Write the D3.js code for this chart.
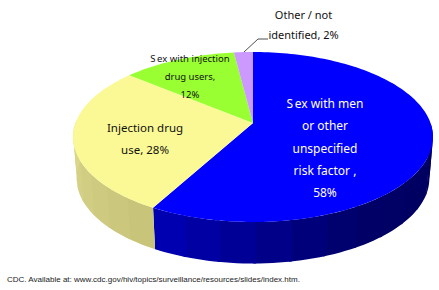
<!DOCTYPE html>
<html>
<head>
<meta charset="utf-8">
<script src="https://cdn.jsdelivr.net/npm/d3@7"></script>
<style>
    html, body { margin: 0; padding: 0; background: #fff; }
    svg { display: block; }
    .lbl { font-family: "Noto Sans", sans-serif; text-anchor: middle; }
    .note { font-family: "Liberation Sans", sans-serif; font-size: 8px; fill: #222; }
</style>
</head>
<body>
<div id="chart"></div>
<script>
// share of diagnoses, clockwise from 12 o'clock
var categories = ['Sex with men or other unspecified risk factor', 'Injection drug use', 'Sex with injection drug users', 'Other / not identified'];
var shares = [58, 28, 12, 2];
var topColors = ['#0000ff', '#fbf995', '#99ff33', '#cc99ff'];

// wall shading, by position round the pie in degrees
var blueStops = [90, 150, 180, 209];
var blueShades = ['#00005c', '#000068', '#000090', '#0000b8'];
var yellowStops = [209, 272];
var yellowShades = ['#c6c478', '#dcd98e'];

var labelLines = [
    ['Sex with men', 'or other', 'unspecified', 'risk factor ,', '58%'],
    ['Injection drug', 'use, 28%'],
    ['Sex with injection', 'drug users,', '12%'],
    ['Other / not', 'identified, 2%']
];
var labelX = [325, 145, 190, 303.5];
var labelY = [108, 132, 62, 19];
var labelGap = [22.3, 21.5, 18, 20];
var labelSize = [12, 11.5, 9.5, 11];
var labelFill = ['#fff', '#111', '#111', '#111'];
var footnote = 'CDC. Available at: www.cdc.gov/hiv/topics/surveillance/resources/slides/index.htm.';

var width = 439, height = 290;

var svg = d3.select('#chart').append('svg')
    .attr('width', width)
    .attr('height', height);

// pie seen in perspective: unit circle mapped to the screen
var cx = 253, cy = 123, a = 177.5, b = 82.7, k = 0.1647;
var depth = 41.5, baseScale = 0.98;

function project(angle) {
    var u = Math.sin(angle), v = Math.cos(angle), w = 1 + k * v;
    return [cx + a * u / w, cy - b * v / w];
}
function projectBase(angle) {
    var p = project(angle);
    return [cx + (p[0] - cx) * baseScale, p[1] + depth];
}

var pie = d3.pie().sort(null).value(function(d) { return d; });
var arcs = pie(shares);
var line = d3.line();

function steps(a0, a1, n) {
    return d3.range(n + 1).map(function(i) { return a0 + (a1 - a0) * i / n; });
}
function rad(deg) { return deg * Math.PI / 180; }

// side wall, one band at a time so the shading stays stepped
var walls = [
    { arc: arcs[0], shade: d3.scaleLinear().domain(blueStops.map(rad)).range(blueShades) },
    { arc: arcs[1], shade: d3.scaleLinear().domain(yellowStops.map(rad)).range(yellowShades) }
];
var wallFrom = rad(90), wallTo = rad(272), bandWidth = rad(10);

walls.forEach(function(wall) {
    var start = Math.max(wall.arc.startAngle, wallFrom), end = Math.min(wall.arc.endAngle, wallTo);
    var n = Math.ceil((end - start) / bandWidth);
    d3.range(n).forEach(function(j) {
        var t0 = start + (end - start) * j / n, t1 = start + (end - start) * (j + 1) / n;
        // overlap next band a little, otherwise seams show
        var t = steps(t0, Math.min(t1 + 0.015, end), 6);
        var pts = t.map(project).concat(t.slice().reverse().map(projectBase));
        svg.append('path')
            .attr('d', line(pts) + 'Z')
            .attr('fill', wall.shade((t0 + t1) / 2));
    });
});

// top face
arcs.forEach(function(d, i) {
    var n = Math.ceil((d.endAngle - d.startAngle) * 40);
    var pts = [[cx, cy]].concat(steps(d.startAngle, d.endAngle, n).map(project));
    svg.append('path')
        .attr('d', line(pts) + 'Z')
        .attr('fill', topColors[i]);
});

// leader for the small slice
svg.append('path')
    .attr('d', line([[244, 52], [258, 39], [268, 39]]))
    .attr('fill', 'none')
    .attr('stroke', '#222')
    .attr('stroke-width', 0.8);

labelLines.forEach(function(lines, i) {
    var t = svg.append('text')
        .attr('class', 'lbl')
        .attr('font-size', labelSize[i])
        .attr('fill', labelFill[i]);
    lines.forEach(function(s, j) {
        t.append('tspan')
            .attr('x', labelX[i])
            .attr('y', labelY[i] + j * labelGap[i])
            .attr('dx', s.indexOf('Sex') === 0 ? '0 1.5' : null)
            .text(s);
    });
});

svg.append('text')
    .attr('class', 'note')
    .attr('x', 7)
    .attr('y', 282)
    .text(footnote);
</script>
</body>
</html>
